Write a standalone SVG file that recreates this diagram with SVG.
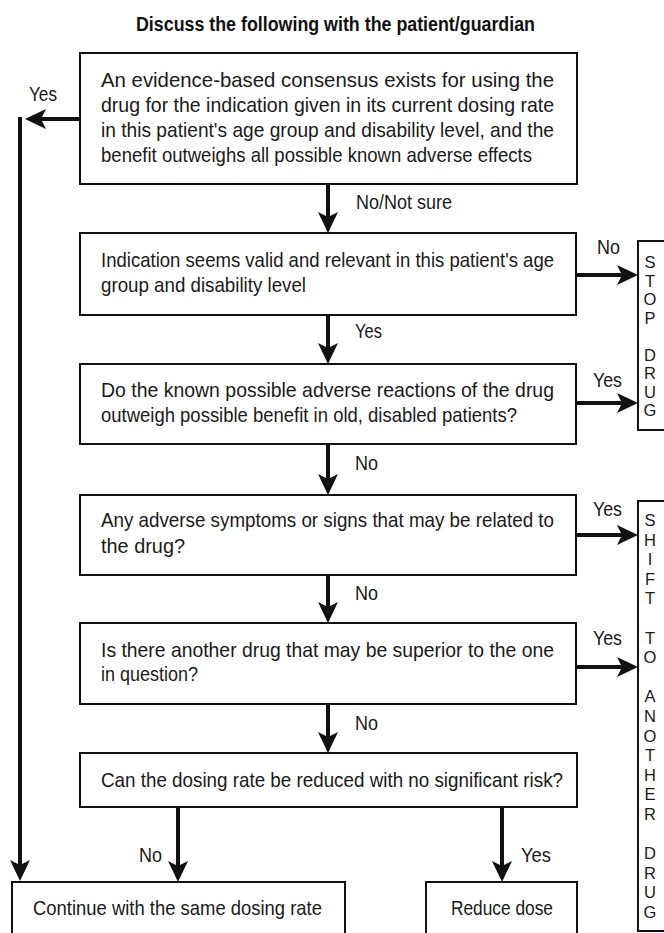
<svg xmlns="http://www.w3.org/2000/svg" xmlns:xlink="http://www.w3.org/1999/xlink" width="664" height="933" viewBox="0 0 664 933">
<style>
  .box { fill: #fff; stroke: #111; stroke-width: 2; }
  .t { font-family: "Liberation Sans", Arial, sans-serif; font-size: 21px; fill: #1a1a1a; }
  .lbl { font-family: "Liberation Sans", Arial, sans-serif; font-size: 21px; fill: #1a1a1a; }
  .title { font-family: "Liberation Sans", Arial, sans-serif; font-size: 20px; font-weight: bold; fill: #111; }
  .v { font-family: "Liberation Sans", Arial, sans-serif; font-size: 16.5px; fill: #1a1a1a; text-anchor: middle; }
  .ln { stroke: #111; stroke-width: 4; fill: none; }
  .ah { fill: #111; }
</style>
<defs>
  <path id="ahd" class="ah" d="M0,0 L-10,-21 L0,-16 L10,-21 Z"/>
</defs>
<rect width="664" height="933" fill="#fff"/>

<text class="title" x="136" y="31" textLength="399" lengthAdjust="spacingAndGlyphs">Discuss the following with the patient/guardian</text>

<g id="connectors">
  <line class="ln" x1="80" y1="119" x2="35" y2="119"/>
  <use xlink:href="#ahd" transform="translate(25,119) rotate(90)"/>
  <line class="ln" x1="20" y1="117" x2="20" y2="868"/>
  <use xlink:href="#ahd" transform="translate(20,881)"/>
  <line class="ln" x1="328" y1="184" x2="328" y2="220"/>
  <use xlink:href="#ahd" transform="translate(328,233)"/>
  <line class="ln" x1="328" y1="315" x2="328" y2="351"/>
  <use xlink:href="#ahd" transform="translate(328,364)"/>
  <line class="ln" x1="328" y1="444" x2="328" y2="482"/>
  <use xlink:href="#ahd" transform="translate(328,495)"/>
  <line class="ln" x1="328" y1="575" x2="328" y2="610"/>
  <use xlink:href="#ahd" transform="translate(328,623)"/>
  <line class="ln" x1="328" y1="704" x2="328" y2="740"/>
  <use xlink:href="#ahd" transform="translate(328,753)"/>
  <line class="ln" x1="178" y1="807" x2="178" y2="869"/>
  <use xlink:href="#ahd" transform="translate(178,882)"/>
  <line class="ln" x1="502" y1="807" x2="502" y2="869"/>
  <use xlink:href="#ahd" transform="translate(502,882)"/>
  <line class="ln" x1="576" y1="275" x2="625" y2="275"/>
  <use xlink:href="#ahd" transform="translate(638,275) rotate(-90)"/>
  <line class="ln" x1="576" y1="403" x2="625" y2="403"/>
  <use xlink:href="#ahd" transform="translate(638,403) rotate(-90)"/>
  <line class="ln" x1="576" y1="535" x2="625" y2="535"/>
  <use xlink:href="#ahd" transform="translate(638,535) rotate(-90)"/>
  <line class="ln" x1="576" y1="667" x2="625" y2="667"/>
  <use xlink:href="#ahd" transform="translate(638,667) rotate(-90)"/>
  <text class="lbl" x="29" y="101" textLength="28" lengthAdjust="spacingAndGlyphs">Yes</text>
  <text class="lbl" x="356" y="209" textLength="96" lengthAdjust="spacingAndGlyphs">No/Not sure</text>
  <text class="lbl" x="597" y="254" textLength="23" lengthAdjust="spacingAndGlyphs">No</text>
  <text class="lbl" x="355" y="338" textLength="27" lengthAdjust="spacingAndGlyphs">Yes</text>
  <text class="lbl" x="593" y="387" textLength="29" lengthAdjust="spacingAndGlyphs">Yes</text>
  <text class="lbl" x="355" y="470" textLength="23" lengthAdjust="spacingAndGlyphs">No</text>
  <text class="lbl" x="593" y="516" textLength="29" lengthAdjust="spacingAndGlyphs">Yes</text>
  <text class="lbl" x="355" y="600" textLength="23" lengthAdjust="spacingAndGlyphs">No</text>
  <text class="lbl" x="593" y="645" textLength="29" lengthAdjust="spacingAndGlyphs">Yes</text>
  <text class="lbl" x="355" y="730" textLength="23" lengthAdjust="spacingAndGlyphs">No</text>
  <text class="lbl" x="139" y="862" textLength="23" lengthAdjust="spacingAndGlyphs">No</text>
  <text class="lbl" x="521" y="862" textLength="30" lengthAdjust="spacingAndGlyphs">Yes</text>
</g>

<g id="node-consensus">
  <rect class="box" x="80" y="53" width="497" height="131"/>
  <text class="t" x="101" y="86.5" textLength="453" lengthAdjust="spacingAndGlyphs">An evidence-based consensus exists for using the</text>
  <text class="t" x="101" y="111.5" textLength="453" lengthAdjust="spacingAndGlyphs">drug for the indication given in its current dosing rate</text>
  <text class="t" x="101" y="136.5" textLength="453" lengthAdjust="spacingAndGlyphs">in this patient's age group and disability level, and the</text>
  <text class="t" x="101" y="161.5" textLength="431" lengthAdjust="spacingAndGlyphs">benefit outweighs all possible known adverse effects</text>
</g>

<g id="node-indication">
  <rect class="box" x="80" y="233" width="496" height="82"/>
  <text class="t" transform="translate(101,267) scale(0.85,1)" x="0" y="0" textLength="533" lengthAdjust="spacingAndGlyphs">Indication seems valid and relevant in this patient's age</text>
  <text class="t" x="101" y="292" textLength="205" lengthAdjust="spacingAndGlyphs">group and disability level</text>
</g>

<g id="node-adverse-reactions">
  <rect class="box" x="80" y="364" width="496" height="80"/>
  <text class="t" x="101" y="397" textLength="453" lengthAdjust="spacingAndGlyphs">Do the known possible adverse reactions of the drug</text>
  <text class="t" x="101" y="422" textLength="416" lengthAdjust="spacingAndGlyphs">outweigh possible benefit in old, disabled patients?</text>
</g>

<g id="node-symptoms">
  <rect class="box" x="80" y="495" width="496" height="80"/>
  <text class="t" transform="translate(101,527) scale(0.85,1)" x="0" y="0" textLength="533" lengthAdjust="spacingAndGlyphs">Any adverse symptoms or signs that may be related to</text>
  <text class="t" x="101" y="553" textLength="84" lengthAdjust="spacingAndGlyphs">the drug?</text>
</g>

<g id="node-another-drug">
  <rect class="box" x="80" y="623" width="496" height="81"/>
  <text class="t" x="101" y="657" textLength="453" lengthAdjust="spacingAndGlyphs">Is there another drug that may be superior to the one</text>
  <text class="t" x="101" y="681" textLength="97" lengthAdjust="spacingAndGlyphs">in question?</text>
</g>

<g id="node-reduce-question">
  <rect class="box" x="80" y="753" width="497" height="54"/>
  <text class="t" x="101" y="787" textLength="462" lengthAdjust="spacingAndGlyphs">Can the dosing rate be reduced with no significant risk?</text>
</g>

<g id="node-continue">
  <rect class="box" x="12" y="882" width="333" height="60"/>
  <text class="t" x="33" y="915" textLength="289" lengthAdjust="spacingAndGlyphs">Continue with the same dosing rate</text>
</g>

<g id="node-reduce-dose">
  <rect class="box" x="426" y="882" width="151" height="60"/>
  <text class="t" x="451" y="915" textLength="102" lengthAdjust="spacingAndGlyphs">Reduce dose</text>
</g>

<g id="node-stop-drug">
  <rect class="box" x="638" y="241" width="40" height="189"/>
  <text class="v" x="650" y="268">S</text>
  <text class="v" x="650" y="286.5">T</text>
  <text class="v" x="650" y="305">O</text>
  <text class="v" x="650" y="323.5">P</text>
  <text class="v" x="650" y="360.5">D</text>
  <text class="v" x="650" y="379">R</text>
  <text class="v" x="650" y="397.5">U</text>
  <text class="v" x="650" y="416">G</text>
</g>

<g id="node-shift-drug">
  <rect class="box" x="638" y="501" width="40" height="430"/>
  <text class="v" x="650" y="526">S</text>
  <text class="v" x="650" y="545.6">H</text>
  <text class="v" x="650" y="565.2">I</text>
  <text class="v" x="650" y="584.8">F</text>
  <text class="v" x="650" y="604.4">T</text>
  <text class="v" x="650" y="643.6">T</text>
  <text class="v" x="650" y="663.2">O</text>
  <text class="v" x="650" y="702.4">A</text>
  <text class="v" x="650" y="722">N</text>
  <text class="v" x="650" y="741.6">O</text>
  <text class="v" x="650" y="761.2">T</text>
  <text class="v" x="650" y="780.8">H</text>
  <text class="v" x="650" y="800.4">E</text>
  <text class="v" x="650" y="820">R</text>
  <text class="v" x="650" y="859.2">D</text>
  <text class="v" x="650" y="878.8">R</text>
  <text class="v" x="650" y="898.4">U</text>
  <text class="v" x="650" y="918">G</text>
</g>
</svg>
